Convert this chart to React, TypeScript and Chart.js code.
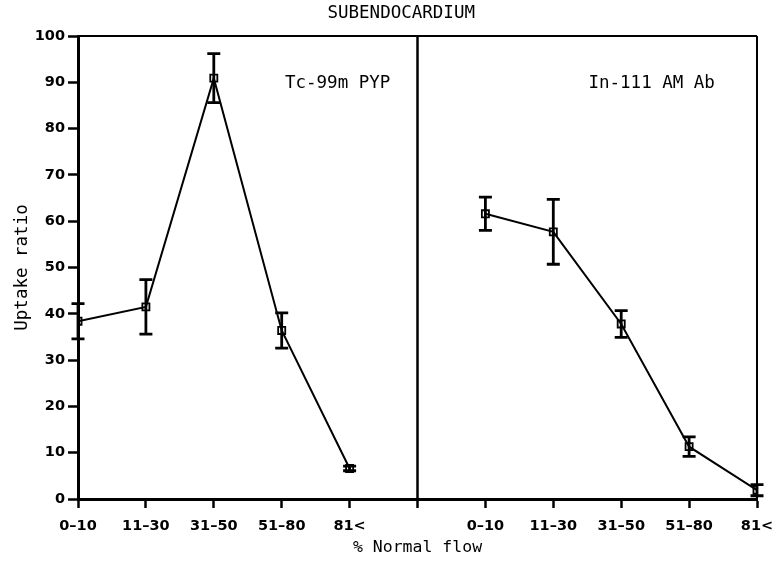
import React, { useEffect, useRef } from "react";
import { Chart, registerables } from "chart.js";

Chart.register(...registerables);

const TITLE = "SUBENDOCARDIUM";
const Y_TITLE = "Uptake ratio";
const X_TITLE = "% Normal flow";
const categories = ["0–10", "11–30", "31–50", "51–80", "81<"];
const xTickLabels = [...categories, "", ...categories];
const yTicks = [0, 10, 20, 30, 40, 50, 60, 70, 80, 90, 100];

const pypLabel = "Tc-99m PYP";
const pypMeans = [38.4, 41.5, 90.9, 36.4, 6.6];
const pypErrors = [3.8, 5.9, 5.3, 3.8, 0.5];

const abLabel = "In-111 AM Ab";
const abMeans = [61.6, 57.7, 37.8, 11.3, 1.9];
const abErrors = [3.6, 7.0, 2.9, 2.1, 1.2];

const pypX = [0, 1, 2, 3, 4];
const abX = [6, 7, 8, 9, 10];
const dividerX = 5;

const MONO = "'DejaVu Sans Mono', monospace";
const SANS = "'DejaVu Sans', sans-serif";

const errorBarPlugin = {
  id: "errorBars",
  afterDatasetsDraw(chart: any) {
    const { ctx } = chart;
    const xs = chart.scales.x;
    const ys = chart.scales.y;
    ctx.save();
    ctx.strokeStyle = "#000";
    chart.data.datasets.forEach((ds: any) => {
      const errs: number[] = ds.errors || [];
      ds.data.forEach((p: any, i: number) => {
        const e = errs[i];
        if (!e) return;
        const px = xs.getPixelForValue(p.x);
        const top = ys.getPixelForValue(p.y + e);
        const bot = ys.getPixelForValue(p.y - e);
        ctx.lineWidth = 2.8;
        ctx.beginPath();
        ctx.moveTo(px, top);
        ctx.lineTo(px, bot);
        ctx.stroke();
        ctx.lineWidth = 2.8;
        ctx.beginPath();
        ctx.moveTo(px - 6.5, top);
        ctx.lineTo(px + 6.5, top);
        ctx.moveTo(px - 6.5, bot);
        ctx.lineTo(px + 6.5, bot);
        ctx.stroke();
      });
    });
    ctx.restore();
  },
};

const framePlugin = {
  id: "frame",
  afterDraw(chart: any) {
    const { ctx } = chart;
    const xs = chart.scales.x;
    const ys = chart.scales.y;
    const x0 = xs.getPixelForValue(xs.min);
    const x1 = xs.getPixelForValue(xs.max);
    const xd = xs.getPixelForValue(dividerX);
    const yTop = ys.getPixelForValue(ys.max);
    const yBot = ys.getPixelForValue(ys.min);
    ctx.save();
    ctx.strokeStyle = "#000";
    ctx.lineWidth = 2;
    ctx.beginPath();
    ctx.moveTo(x0, yTop);
    ctx.lineTo(x1, yTop);
    ctx.moveTo(x1, yTop);
    ctx.lineTo(x1, yBot);
    ctx.stroke();
    ctx.lineWidth = 2.5;
    ctx.beginPath();
    ctx.moveTo(xd, yTop);
    ctx.lineTo(xd, yBot);
    ctx.stroke();

    ctx.fillStyle = "#000";
    ctx.font = `17.5px ${MONO}`;
    ctx.textBaseline = "middle";
    ctx.textAlign = "center";
    ctx.fillText(TITLE, xs.getPixelForValue(4.76), 13);
    ctx.textAlign = "right";
    ctx.fillText(pypLabel, xs.getPixelForValue(4.6), ys.getPixelForValue(89.8));
    ctx.fillText(abLabel, xs.getPixelForValue(9.38), ys.getPixelForValue(89.8));
    ctx.restore();
  },
};

export default function App() {
  const ref = useRef<HTMLCanvasElement | null>(null);
  useEffect(() => {
    if (!ref.current) return;
    const mk = (xsArr: number[], ys: number[]) => xsArr.map((x, i) => ({ x, y: ys[i] }));
    const common = {
      borderColor: "#000",
      borderWidth: 2,
      pointStyle: "rect",
      pointRadius: 5,
      pointBorderWidth: 1.8,
      pointBorderColor: "#000",
      pointBackgroundColor: "rgba(255,255,255,0)",
      tension: 0,
      fill: false,
    };
    const chart = new Chart(ref.current, {
      type: "line",
      data: {
        datasets: [
          { label: pypLabel, data: mk(pypX, pypMeans), errors: pypErrors, ...common } as any,
          { label: abLabel, data: mk(abX, abMeans), errors: abErrors, ...common } as any,
        ],
      },
      options: {
        responsive: false,
        animation: false,
        layout: { padding: { top: 36, right: 18, left: 0, bottom: 0 } },
        plugins: {
          legend: { display: false },
          tooltip: { enabled: false },
          title: { display: false },
        },
        scales: {
          x: {
            type: "linear",
            min: 0,
            max: 10,
            afterFit(scale: any) {
              scale.height = 63;
              scale.paddingLeft = 0;
              scale.paddingRight = 0;
            },
            afterBuildTicks(scale: any) {
              scale.ticks = xTickLabels.map((_, i) => ({ value: i }));
            },
            ticks: {
              autoSkip: false,
              maxRotation: 0,
              padding: 10,
              color: "#000",
              font: { family: SANS, size: 14.5, weight: "bold" },
              callback: (v: any) => xTickLabels[Math.round(Number(v))] ?? "",
            },
            grid: {
              display: true,
              drawOnChartArea: false,
              drawTicks: true,
              tickLength: 9,
              tickWidth: 2.5,
              tickColor: "#000",
              color: "#000",
            },
            border: { display: true, color: "#000", width: 3 },
            title: {
              display: true,
              text: X_TITLE,
              color: "#000",
              font: { family: MONO, size: 16.5 },
              padding: { top: 2, bottom: 4 },
            },
          },
          y: {
            type: "linear",
            min: 0,
            max: 100,
            afterFit(scale: any) {
              scale.width = 78;
              scale.paddingTop = 0;
              scale.paddingBottom = 0;
            },
            afterBuildTicks(scale: any) {
              scale.ticks = yTicks.map((v) => ({ value: v }));
            },
            ticks: {
              padding: 3,
              color: "#000",
              font: { family: SANS, size: 14.5, weight: "bold" },
            },
            grid: {
              display: true,
              drawOnChartArea: false,
              drawTicks: true,
              tickLength: 10,
              tickWidth: 2.5,
              tickColor: "#000",
              color: "#000",
            },
            border: { display: true, color: "#000", width: 3 },
            title: {
              display: true,
              text: Y_TITLE,
              color: "#000",
              font: { family: MONO, size: 17.5 },
              padding: { top: 11.5, bottom: 0 },
            },
          },
        },
      } as any,
      plugins: [errorBarPlugin, framePlugin],
    });
    return () => chart.destroy();
  }, []);
  return (
    <canvas
      ref={ref}
      width={775}
      height={562}
      style={{ position: "fixed", left: 0, top: 0, background: "#fff" }}
    />
  );
}
